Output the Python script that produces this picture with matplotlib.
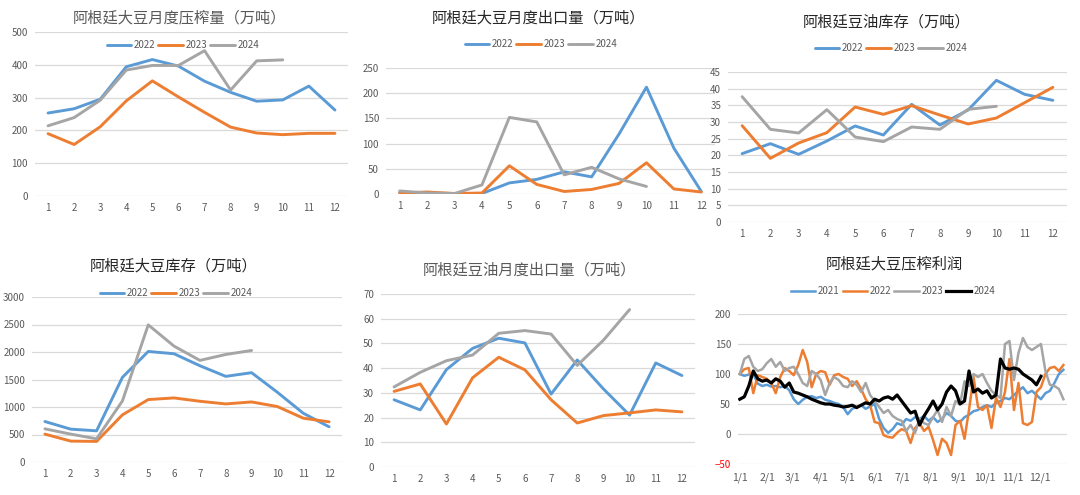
import matplotlib
matplotlib.use('Agg')
import matplotlib.pyplot as plt
import numpy as np

plt.rcParams['font.family'] = ['Noto Sans CJK SC', 'DejaVu Sans']

months = np.arange(1, 13)

# 阿根廷大豆月度压榨量
crush_2022 = [253, 266, 295, 394, 416, 396, 350, 316, 289, 293, 335, 262]
crush_2023 = [190, 157, 211, 290, 351, 302, 255, 210, 192, 187, 191, 191]
crush_2024 = [214, 239, 292, 384, 398, 398, 443, 323, 412, 415]

# 阿根廷大豆月度出口量
bexp_2022 = [3, 1, 1, 1, 22, 29, 44, 34, 119, 212, 91, 5]
bexp_2023 = [2, 4, 1, 2, 56, 19, 5, 9, 21, 62, 10, 4]
bexp_2024 = [6, 2, 1, 18, 152, 143, 38, 53, 30, 15]

# 阿根廷豆油库存
ostk_2022 = [20.5, 23.5, 20.3, 24.3, 28.8, 26.1, 35.3, 29.1, 33.6, 42.5, 38.3, 36.5]
ostk_2023 = [28.9, 19.1, 23.7, 26.8, 34.5, 32.3, 34.9, 32.1, 29.4, 31.2, 35.8, 40.4]
ostk_2024 = [37.6, 27.8, 26.7, 33.7, 25.5, 24.1, 28.5, 27.8, 33.8, 34.7]

# 阿根廷大豆库存
bstk_2022 = [736, 597, 567, 1539, 2010, 1968, 1750, 1557, 1624, 1267, 887, 640]
bstk_2023 = [507, 380, 374, 857, 1135, 1165, 1104, 1056, 1092, 1008, 797, 730]
bstk_2024 = [603, 507, 422, 1110, 2493, 2106, 1847, 1955, 2028]

# 阿根廷豆油月度出口量
oexp_2022 = [27.2, 23.1, 39.4, 48.0, 52.1, 50.2, 29.5, 43.3, 31.6, 21.0, 42.1, 37.0]
oexp_2023 = [30.6, 33.6, 17.4, 36.1, 44.4, 39.3, 27.2, 17.8, 20.8, 21.9, 23.1, 22.3]
oexp_2024 = [32.4, 38.3, 43.0, 45.3, 54.1, 55.2, 53.8, 41.1, 51.3, 63.7]

# 阿根廷大豆压榨利润 (every 5 days from 1/1)
days = np.arange(0, 361, 5)
margin_2021 = [100, 97, 99, 100, 84, 80, 82, 79, 80, 78, 80, 73,
               58, 50, 57, 62, 63, 60, 62, 57, 55, 52, 50, 45,
               33, 42, 45, 48, 42, 46, 50, 25, 10, 2, 8, 18,
               15, 25, 22, 28, 25, 30, 22, 28, 20, 25, 35, 30,
               22, 20, 28, 32, 38, 40, 45, 48, 45, 52, 55, 60,
               58, 65, 72, 78, 68, 72, 65, 58, 68, 72, 85, 100,
               107]
margin_2022 = [100, 108, 110, 68, 98, 95, 92, 85, 68, 95, 110, 105,
               98, 115, 140, 120, 78, 100, 105, 103, 82, 98, 100, 95,
               92, 80, 88, 75, 58, 48, 20, 18, -2, -5, -6, 2,
               8, 5, -15, 10, 18, 5, 12, -10, -35, -8, -15, -35,
               15, 22, -8, 40, 95, 45, 40, 48, 10, 60, 45, 70,
               125, 40, 85, 18, 15, 20, 70, 78, 100, 110, 112, 105,
               115]
margin_2023 = [100, 125, 130, 112, 105, 108, 118, 125, 112, 120, 105, 110,
               112, 100, 85, 80, 105, 100, 90, 65, 85, 95, 90, 80,
               78, 88, 82, 70, 85, 65, 55, 45, 35, 40, 30, 25,
               22, 5, 15, 2, 25, 18, 15, 28, 40, 20, 45, 30,
               55, 50, 88, 80, 100, 95, 100, 85, 72, 65, 60, 150,
               155, 90, 135, 160, 145, 140, 145, 150, 105, 82, 80, 75,
               58]
margin_2024 = [58, 62, 80, 105, 92, 88, 90, 85, 92, 88, 78, 85,
               70, 68, 65, 62, 58, 55, 52, 50, 50, 48, 47, 45,
               46, 48, 44, 48, 52, 50, 58, 55, 60, 62, 58, 65,
               55, 45, 35, 38, 15, 30, 42, 55, 40, 50, 70, 80,
               72, 50, 55, 105, 70, 75, 68, 72, 60, 65, 125, 110,
               108, 110, 108, 100, 95, 90, 82, 96]
month_start = [0, 31, 59, 90, 120, 151, 181, 212, 243, 273, 304, 334]
month_labels = ['1/1', '2/1', '3/1', '4/1', '5/1', '6/1', '7/1', '8/1', '9/1', '10/1', '11/1', '12/1']

blue = '#5B9BD5'
orange = '#ED7D31'
gray = '#A5A5A5'
W, H = 1080, 495

fig = plt.figure(figsize=(10.8, 4.95), dpi=100)


def box(x0, x1, ytop, ybot):
    return [x0 / W, 1 - ybot / H, (x1 - x0) / W, (ybot - ytop) / H]


def style(ax, ylim, ystep):
    ax.set_ylim(*ylim)
    ax.set_yticks(np.arange(ylim[0], ylim[1] + ystep / 2, ystep))
    for s in ax.spines.values():
        s.set_visible(False)
    ax.yaxis.grid(True, color='#D9D9D9', lw=0.9)
    ax.set_axisbelow(True)
    ax.tick_params(length=0, labelsize=7, colors='#595959', pad=5)


def monthly(ax, series, ylim, ystep):
    for vals, c in zip(series, [blue, orange, gray]):
        ax.plot(months[:len(vals)], vals, color=c, lw=2.1,
                solid_joinstyle='round', solid_capstyle='round')
    ax.set_xlim(0.5, 12.5)
    ax.set_xticks(months)
    style(ax, ylim, ystep)


def legend(ax, x, y, labels):
    fig.legend(ax.get_lines(), labels, loc='center', bbox_to_anchor=(x / W, 1 - y / H),
               ncol=len(labels), frameon=False, fontsize=7, handlelength=2.5,
               handletextpad=0.3, columnspacing=0.3, labelcolor='#595959')


def title(x, y, s, c):
    fig.text(x / W, 1 - y / H, s, ha='center', va='center', fontsize=11, color=c)


yrs = ['2022', '2023', '2024']

ax1 = fig.add_axes(box(35, 348, 32, 196))
monthly(ax1, [crush_2022, crush_2023, crush_2024], (0, 500), 100)
title(180, 18, '阿根廷大豆月度压榨量（万吨）', '#595959')
legend(ax1, 183, 45, yrs)

ax2 = fig.add_axes(box(386, 715, 68, 194))
monthly(ax2, [bexp_2022, bexp_2023, bexp_2024], (0, 250), 50)
title(539, 18, '阿根廷大豆月度出口量（万吨）', '#262626')
legend(ax2, 541, 44, yrs)

ax3 = fig.add_axes(box(728, 1067, 72, 222))
monthly(ax3, [ostk_2022, ostk_2023, ostk_2024], (0, 45), 5)
title(887, 22, '阿根廷豆油库存（万吨）', '#262626')
legend(ax3, 891, 48, yrs)

ax4 = fig.add_axes(box(32, 342, 297, 462))
monthly(ax4, [bstk_2022, bstk_2023, bstk_2024], (0, 3000), 500)
title(174, 266, '阿根廷大豆库存（万吨）', '#262626')
legend(ax4, 176, 293, yrs)

ax5 = fig.add_axes(box(381, 695, 294, 467))
monthly(ax5, [oexp_2022, oexp_2023, oexp_2024], (0, 70), 10)
title(530, 270, '阿根廷豆油月度出口量（万吨）', '#595959')

ax6 = fig.add_axes(box(738, 1067, 314, 464))
for vals, c, lw in zip([margin_2021, margin_2022, margin_2023, margin_2024],
                       [blue, orange, gray, 'black'], [1.8, 1.8, 1.8, 2.3]):
    ax6.plot(days[:len(vals)], vals, color=c, lw=lw, solid_joinstyle='round')
ax6.set_xlim(-2, 364)
ax6.set_xticks(month_start)
ax6.set_xticklabels(month_labels)
style(ax6, (-50, 200), 50)
ax6.tick_params(axis='x', labelsize=7.5, pad=6)
ax6.get_yticklabels()[0].set_color('#FF0000')
title(894, 264, '阿根廷大豆压榨利润', '#262626')
legend(ax6, 893, 291, ['2021', '2022', '2023', '2024'])

fig.savefig('out.png', dpi=100, facecolor='white')
